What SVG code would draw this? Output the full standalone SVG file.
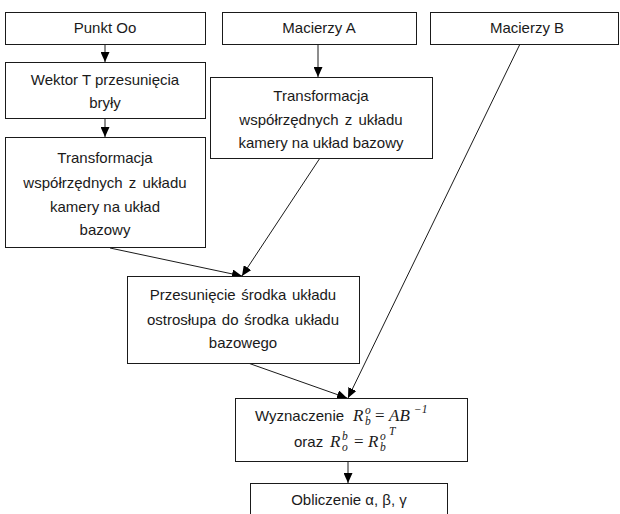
<svg xmlns="http://www.w3.org/2000/svg" width="620" height="514" viewBox="0 0 620 514">
<defs>
<marker id="ah" markerUnits="userSpaceOnUse" markerWidth="10" markerHeight="9" refX="10" refY="4.5" orient="auto">
<path d="M0,0 L10,4.5 L0,9 z" fill="#000"/>
</marker>
<style>
.box{fill:#fff;stroke:#1a1a1a;stroke-width:1}
.t{font-family:"Liberation Sans",Arial,sans-serif;font-size:15px;fill:#1a1a1a;text-anchor:middle}
.m{font-family:"Liberation Serif","DejaVu Serif",serif;font-style:italic;font-size:17px;fill:#1a1a1a}
.s{font-family:"Liberation Serif","DejaVu Serif",serif;font-style:italic;font-size:11.5px;fill:#1a1a1a}
.e{font-family:"Liberation Serif","DejaVu Serif",serif;font-size:17px;fill:#1a1a1a}
.l{font-family:"Liberation Sans",Arial,sans-serif;font-size:15px;fill:#1a1a1a}
.c{fill:none;stroke:#1a1a1a;stroke-width:1}
</style>
</defs>
<rect width="620" height="514" fill="#fff"/>
<g id="connectors">
<line class="c" x1="105" y1="44" x2="105" y2="62" marker-end="url(#ah)"/>
<line class="c" x1="105" y1="118" x2="105" y2="137" marker-end="url(#ah)"/>
<line class="c" x1="318" y1="44" x2="318" y2="77" marker-end="url(#ah)"/>
<line class="c" x1="110" y1="248" x2="242" y2="276" marker-end="url(#ah)"/>
<line class="c" x1="320" y1="158" x2="242" y2="276" marker-end="url(#ah)"/>
<line class="c" x1="248" y1="363" x2="347" y2="398" marker-end="url(#ah)"/>
<line class="c" x1="520" y1="44" x2="348" y2="398" marker-end="url(#ah)"/>
<line class="c" x1="348" y1="462" x2="348" y2="483" marker-end="url(#ah)"/>
</g>
<g id="punkt">
<rect class="box" x="5.5" y="12.5" width="200" height="32"/>
<text class="t" x="105" y="33">Punkt Oo</text>
</g>
<g id="macierzA">
<rect class="box" x="222.5" y="12.5" width="194" height="32"/>
<text class="t" x="319" y="33">Macierzy A</text>
</g>
<g id="macierzB">
<rect class="box" x="430.5" y="12.5" width="188" height="32"/>
<text class="t" x="527" y="33">Macierzy B</text>
</g>
<g id="wektor">
<rect class="box" x="5.5" y="62.5" width="200" height="56"/>
<text class="t" x="105" y="85">Wektor T przesunięcia</text>
<text class="t" x="105" y="108">bryły</text>
</g>
<g id="transfA">
<rect class="box" x="210.5" y="77.5" width="222" height="81"/>
<text class="t" x="321" y="101">Transformacja</text>
<text class="t" x="321" y="125" word-spacing="2">współrzędnych z układu</text>
<text class="t" x="321" y="148">kamery na układ bazowy</text>
</g>
<g id="transfT">
<rect class="box" x="5.5" y="137.5" width="200" height="110"/>
<text class="t" x="105" y="163">Transformacja</text>
<text class="t" x="105" y="188" word-spacing="2">współrzędnych z układu</text>
<text class="t" x="105" y="212">kamery na układ</text>
<text class="t" x="105" y="235">bazowy</text>
</g>
<g id="przesuniecie">
<rect class="box" x="127.5" y="276.5" width="232" height="87"/>
<text class="t" x="243" y="300" word-spacing="1.5">Przesunięcie środka układu</text>
<text class="t" x="243" y="325" word-spacing="1.5">ostrosłupa do środka układu</text>
<text class="t" x="243" y="348">bazowego</text>
</g>
<g id="wyznaczenie">
<rect class="box" x="235.5" y="398.5" width="232" height="63"/>
<text class="l" x="255" y="421">Wyznaczenie</text>
<text class="m" x="353" y="421">R</text>
<text class="s" x="365" y="414">o</text>
<text class="s" x="365" y="425">b</text>
<text class="e" x="375" y="421">=</text>
<text class="m" x="389" y="421">AB</text>
<text class="s" x="414" y="413" font-style="normal" font-size="12">−1</text>
<text class="l" x="294" y="447">oraz</text>
<text class="m" x="330" y="447">R</text>
<text class="s" x="342" y="440">b</text>
<text class="s" x="342" y="451">o</text>
<text class="e" x="354" y="447">=</text>
<text class="m" x="368" y="447">R</text>
<text class="s" x="380" y="440">o</text>
<text class="s" x="380" y="451">b</text>
<text class="s" x="389" y="435">T</text>
</g>
<g id="obliczenie">
<rect class="box" x="250.5" y="483.5" width="197" height="40"/>
<text class="t" x="349" y="505">Obliczenie α, β, γ</text>
</g>
</svg>
